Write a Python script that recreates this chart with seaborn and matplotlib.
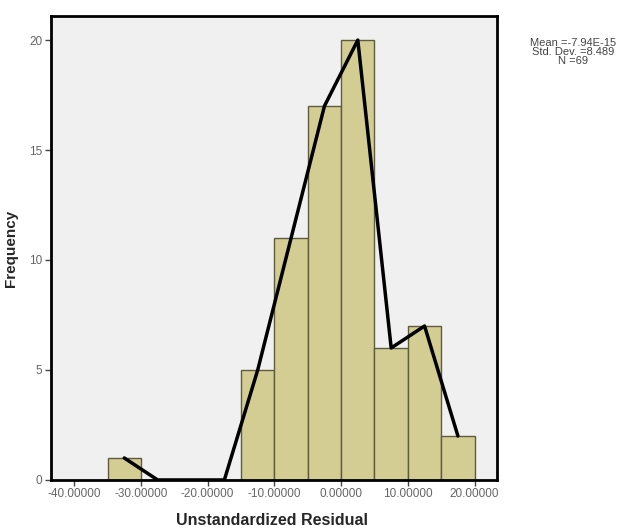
import matplotlib
matplotlib.use("Agg")
import matplotlib.pyplot as plt
import seaborn as sns

sns.set_style("white")
plt.rcParams["font.family"] = ["Liberation Sans", "DejaVu Sans"]

# histogram data (bin width 5)
bin_edges = [-35, -30, -25, -20, -15, -10, -5, 0, 5, 10, 15, 20]
bin_mids = [-32.5, -27.5, -22.5, -17.5, -12.5, -7.5, -2.5, 2.5, 7.5, 12.5, 17.5]
counts = [1, 0, 0, 0, 5, 11, 17, 20, 6, 7, 2]

# frequency polygon
poly_x = [-32.5, -27.5, -22.5, -17.5, -12.5, -7.5, -2.5, 2.5, 7.5, 12.5, 17.5]
poly_y = [1, 0, 0, 0, 5, 11, 17, 20, 6, 7, 2]

x_ticks = [-40, -30, -20, -10, 0, 10, 20]
y_ticks = [0, 5, 10, 15, 20]

fig = plt.figure(figsize=(6.2, 5.28), dpi=100)
ax = fig.add_axes([0.082, 0.091, 0.719, 0.879])
ax.set_facecolor("#F0F0F0")

sns.histplot(x=bin_mids, weights=counts, bins=bin_edges, ax=ax,
             color="#D3CD94", alpha=1, edgecolor="#5E5B3E", linewidth=1.0)
sns.lineplot(x=poly_x, y=poly_y, ax=ax, color="black", linewidth=2.5)

ax.set_xlim(-43.5, 23.3)
ax.set_ylim(0, 21.1)
ax.set_xticks(x_ticks)
ax.set_xticklabels([f"{t:.5f}" for t in x_ticks])
ax.set_yticks(y_ticks)
ax.tick_params(axis="both", direction="out", length=4, width=1,
               labelsize=8.5, labelcolor="#666666", color="#444444",
               bottom=True, left=True, pad=2)
for s in ax.spines.values():
    s.set_linewidth(2)
    s.set_color("black")

ax.set_xlabel("Unstandardized Residual", fontsize=11.5, fontweight="bold")
ax.xaxis.set_label_coords(0.495, -0.072)
ax.set_ylabel("Frequency", fontsize=11, fontweight="bold")
ax.yaxis.set_label_coords(-0.073, 0.5)

fig.text(0.925, 0.928, "Mean =-7.94E-15\nStd. Dev. =8.489\nN =69",
         ha="center", va="top", fontsize=8, color="#444444", linespacing=0.85)

fig.savefig("out.png", dpi=100)
